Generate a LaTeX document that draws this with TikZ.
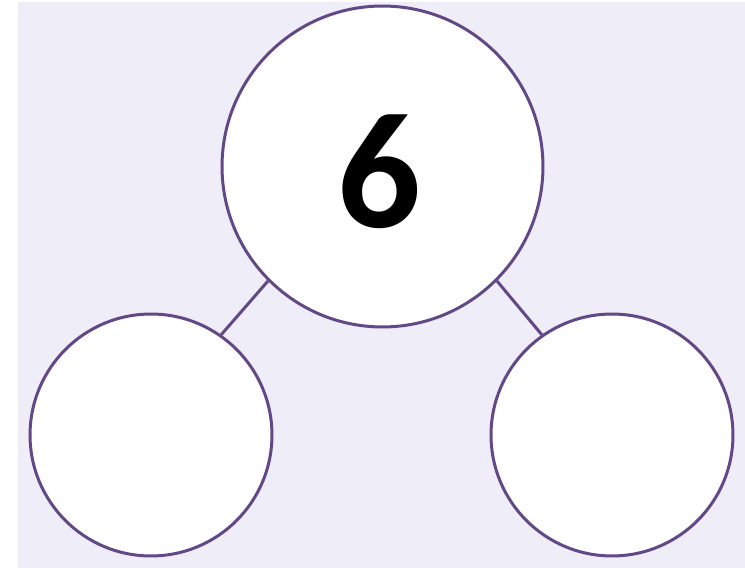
\documentclass[tikz,border=0pt]{standalone}
\usepackage{fontspec}
\usepackage{tikz}
\usetikzlibrary{positioning}
\newfontfamily\numfont{Carlito}
\definecolor{cBack}{RGB}{239,237,248}
\definecolor{cRing}{RGB}{98,72,134}
\tikzset{
	whole/.style={circle, draw=cRing, line width=1.7pt, fill=white, minimum size=6.42cm, inner sep=0pt},
	part/.style={circle, draw=cRing, line width=1.7pt, fill=white, minimum size=4.84cm, inner sep=0pt},
	bond/.style={draw=cRing, line width=1.7pt},
}

\begin{document}
\begin{tikzpicture}[x=0.02cm, y=-0.02cm]
			\useasboundingbox (0,0) rectangle (745,568);
			\fill[cBack] (18,2) rectangle (745,568);
			\node[whole] (w) at (382.5,166.5) {};
			\node[part] (l) at (151,435) {};
			\node[part] (r) at (612,435) {};
			\draw[bond] (w.225) -- (l.55);
			\draw[bond] (w.315) -- (r.125);
			\node[font=\numfont\bfseries\fontsize{94}{94}\selectfont, inner sep=0pt] (six) at (379,172) {6};
		\end{tikzpicture}
\end{document}
